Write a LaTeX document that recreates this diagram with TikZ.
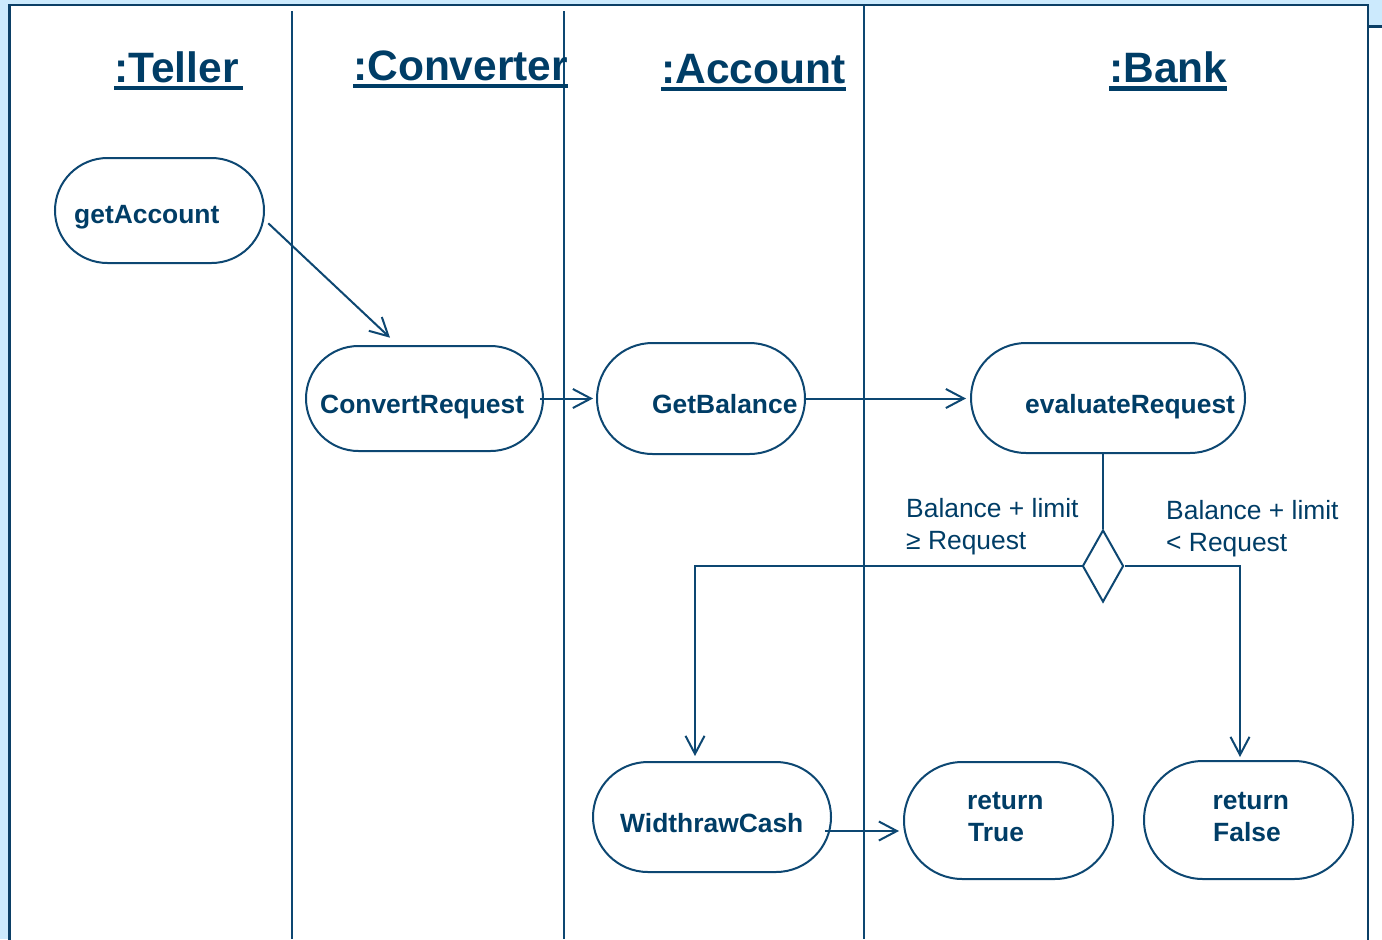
\documentclass[tikz,border=0pt]{standalone}
\usepackage{fontspec}
\setmainfont{Liberation Sans}
\usetikzlibrary{shapes.misc,shapes.geometric,arrows.meta,calc}
\definecolor{ink}{HTML}{003D66}
\definecolor{wire}{HTML}{0D4772}
\definecolor{sky}{HTML}{CCEAFD}
\definecolor{framecol}{HTML}{0B3F66}
\begin{document}
\begin{tikzpicture}[x=1bp,y=-1bp,
  activity/.style={rounded rectangle, draw=wire, line width=2bp, inner sep=0pt, fill=white},
  decision/.style={diamond, draw=wire, line width=2bp, inner sep=0pt, fill=white,
                   minimum width=41bp, minimum height=72bp},
  acttext/.style={inner sep=0pt, text=ink, font=\fontsize{26.4bp}{32bp}\selectfont\bfseries},
  cond/.style={inner sep=0pt, text=ink, font=\fontsize{26.4bp}{32bp}\selectfont},
  hdr/.style={inner sep=0pt, text=ink, anchor=base west, font=\fontsize{42.5bp}{50bp}\selectfont\bfseries},
  hline/.style={draw=ink, line width=4.5bp},
  lane/.style={draw=wire, line width=2bp},
  wireline/.style={draw=wire, line width=2bp},
  flow/.style={draw=wire, line width=2bp, -{Straight Barb[length=18bp,width=19bp]}}]

% page, frames
\useasboundingbox (0,0) rectangle (1382,939);
\fill[sky] (0,0) rectangle (1382,939);
\filldraw[fill=white, draw=framecol, line width=2.5bp] (1368,26.5) rectangle (1392,950);
\filldraw[fill=white, draw=framecol, line width=2.5bp] (9.5,5) rectangle (1368,950);

% swimlane separators
\draw[lane] (292,11) -- (292,939);
\draw[lane] (564,11) -- (564,939);
\draw[lane] (864,6) -- (864,939);

% lane headers
\node[hdr] (hTeller) at (114,82) {:Teller};
\node[hdr] (hConverter) at (353,80) {:Converter};
\node[hdr] (hAccount) at (661,83) {:Account};
\node[hdr] (hBank) at (1109,82) {:Bank};
\draw[hline] ($(hTeller.base west)+(0,6)$) -- ($(hTeller.base east)+(4,6)$);
\foreach \h/\d in {hConverter/6, hAccount/6, hBank/6.5}
  \draw[hline] ($(\h.base west)+(0,\d)$) -- ($(\h.base east)+(0,\d)$);

% activities
\node[activity, minimum width=209bp, minimum height=105bp] (getAccount) at (159.5,210.5) {};
\node[acttext, anchor=base west] (tGetAccount) at (74,223.5) {getAccount};

\node[activity, minimum width=237bp, minimum height=105bp] (convertRequest) at (424.5,398.5) {};
\node[acttext, anchor=base west] (tConvertRequest) at (320,413) {ConvertRequest};

\node[activity, minimum width=208bp, minimum height=111bp] (getBalance) at (701,398.5) {};
\node[acttext, anchor=base west] (tGetBalance) at (652,413) {GetBalance};

\node[activity, minimum width=274bp, minimum height=110bp] (evaluateRequest) at (1108,398) {};
\node[acttext, anchor=base west] (tEvaluateRequest) at (1025,413) {evaluateRequest};

\node[activity, minimum width=238bp, minimum height=110bp] (withdrawCash) at (712,817) {};
\node[acttext, anchor=base west] (tWithdrawCash) at (620,832) {WidthrawCash};

\node[activity, minimum width=209bp, minimum height=117bp] (returnTrue) at (1008.5,820.5) {};
\node[acttext, anchor=base west] (tReturnTrue1) at (967,809) {return};
\node[acttext, anchor=base west] (tReturnTrue2) at (968,841) {True};

\node[activity, minimum width=209bp, minimum height=118bp] (returnFalse) at (1248.5,820) {};
\node[acttext, anchor=base west] (tReturnFalse1) at (1212.5,809) {return};
\node[acttext, anchor=base west] (tReturnFalse2) at (1213,841) {False};

% decision and guards
\node[decision] (check) at (1103,566) {};
\node[cond, anchor=base west] (gOk1) at (906,517) {Balance + limit};
\node[cond, anchor=base west] (gOk2) at (906,549) {≥ Request};
\node[cond, anchor=base west] (gNo1) at (1166,519) {Balance + limit};
\node[cond, anchor=base west] (gNo2) at (1166,551) {< Request};

% control flow
\coordinate (cashOut) at ($(withdrawCash.east)+(-7,14)$);
\draw[flow] ($(getAccount.center)+(108.8,12.8)$) -- ($(convertRequest.center)+(-34.5,-60.8)$);
\draw[flow] ($(convertRequest.east)+(-4,0)$) -- ($(getBalance.west)+(-3,0)$);
\draw[flow] (getBalance.east) -- ($(getBalance.east -| evaluateRequest.west)+(-4,0)$);
\draw[wireline] (check.north |- evaluateRequest.south) -- (check.north);
\draw[flow] (check.west) -| ($(withdrawCash.north)+(-17,-5)$);
\draw[flow] (check.east) -| ($(returnFalse.north)+(-8.5,-3)$);
\draw[flow] (cashOut) -- ($(cashOut -| returnTrue.west)+(-4,0)$);
\end{tikzpicture}
\end{document}
